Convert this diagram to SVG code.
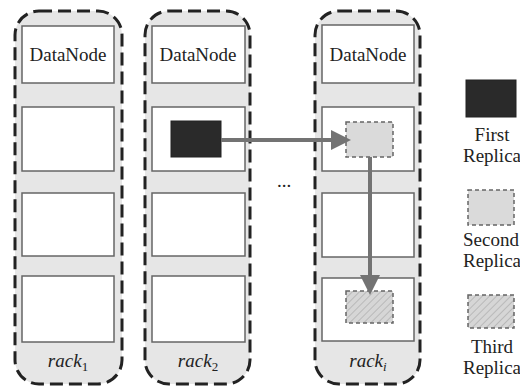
<svg xmlns="http://www.w3.org/2000/svg" width="520" height="390" viewBox="0 0 520 390" font-family="'Liberation Serif', 'DejaVu Serif', serif">
<defs>
<style>
.rack{fill:#e6e6e6;stroke:#222;stroke-width:3;stroke-dasharray:13 6}
.slot{fill:#fff;stroke:#666;stroke-width:1.5}
.t{font-family:'Liberation Serif','DejaVu Serif',serif;font-size:19px;fill:#222;text-anchor:middle}
.first{fill:#2a2a2a;stroke:#222;stroke-width:1}
.second{fill:#dadada;stroke:#666;stroke-width:1.5;stroke-dasharray:4 3}
.third{fill:url(#hatch);stroke:#666;stroke-width:1.5;stroke-dasharray:4 3}
.conn{stroke:#737373;stroke-width:4;fill:none}
</style>
<pattern id="hatch" patternUnits="userSpaceOnUse" width="5" height="5" patternTransform="rotate(45)">
<rect width="5" height="5" fill="#d6d6d6"/>
<line x1="0" y1="0" x2="0" y2="5" stroke="#b0b0b0" stroke-width="1.5"/>
</pattern>
<marker id="ah" markerUnits="userSpaceOnUse" markerWidth="20" markerHeight="20" refX="4" refY="10" orient="auto">
<path d="M0,0 L20,10 L0,20 z" fill="#737373"/>
</marker>
</defs>

<g id="rack1">
<rect class="rack" x="15" y="11" width="107" height="373" rx="24"/>
<rect class="slot" x="22" y="26" width="92" height="57"/>
<text class="t" x="68" y="61">DataNode</text>
<rect class="slot" x="22" y="107" width="92" height="64"/>
<rect class="slot" x="22" y="193" width="92" height="63"/>
<rect class="slot" x="22" y="276" width="92" height="66"/>
<text class="t" x="68" y="367"><tspan font-style="italic">rack</tspan><tspan font-size="13" dy="4">1</tspan></text>
</g>

<g id="rack2">
<rect class="rack" x="145" y="11" width="105" height="373" rx="24"/>
<rect class="slot" x="152" y="26" width="93" height="57"/>
<text class="t" x="198" y="61">DataNode</text>
<rect class="slot" x="152" y="107" width="93" height="64"/>
<rect class="slot" x="152" y="193" width="93" height="63"/>
<rect class="slot" x="152" y="276" width="93" height="66"/>
<text class="t" x="198" y="367"><tspan font-style="italic">rack</tspan><tspan font-size="13" dy="4">2</tspan></text>
<rect id="first-replica" class="first" x="171" y="121" width="50" height="36"/>
</g>

<g id="ellipsis">
<text class="t" x="284" y="187">...</text>
</g>

<g id="racki">
<rect class="rack" x="315" y="11" width="105" height="373" rx="24"/>
<rect class="slot" x="322" y="25" width="92" height="58"/>
<text class="t" x="368" y="61">DataNode</text>
<rect class="slot" x="322" y="107" width="92" height="64"/>
<rect class="slot" x="322" y="193" width="92" height="64"/>
<rect class="slot" x="322" y="278" width="92" height="63"/>
<text class="t" x="368" y="367"><tspan font-style="italic">rack</tspan><tspan font-size="13" font-style="italic" dy="4">i</tspan></text>
<rect id="second-replica" class="second" x="346" y="122" width="47" height="35"/>
<rect id="third-replica" class="third" x="346" y="291" width="47" height="32"/>
</g>

<g id="connectors">
<line class="conn" x1="221" y1="140" x2="335" y2="140" marker-end="url(#ah)"/>
<line class="conn" x1="370" y1="157" x2="370" y2="279" marker-end="url(#ah)"/>
</g>

<g id="legend-first">
<rect class="first" x="466" y="80" width="50" height="37"/>
<text class="t" x="492" y="141">First</text>
<text class="t" x="492" y="162">Replica</text>
</g>
<g id="legend-second">
<rect class="second" x="468" y="190" width="46" height="35"/>
<text class="t" x="491" y="246">Second</text>
<text class="t" x="492" y="267">Replica</text>
</g>
<g id="legend-third">
<rect class="third" x="468" y="295" width="46" height="33"/>
<text class="t" x="492" y="353">Third</text>
<text class="t" x="492" y="374">Replica</text>
</g>
</svg>
